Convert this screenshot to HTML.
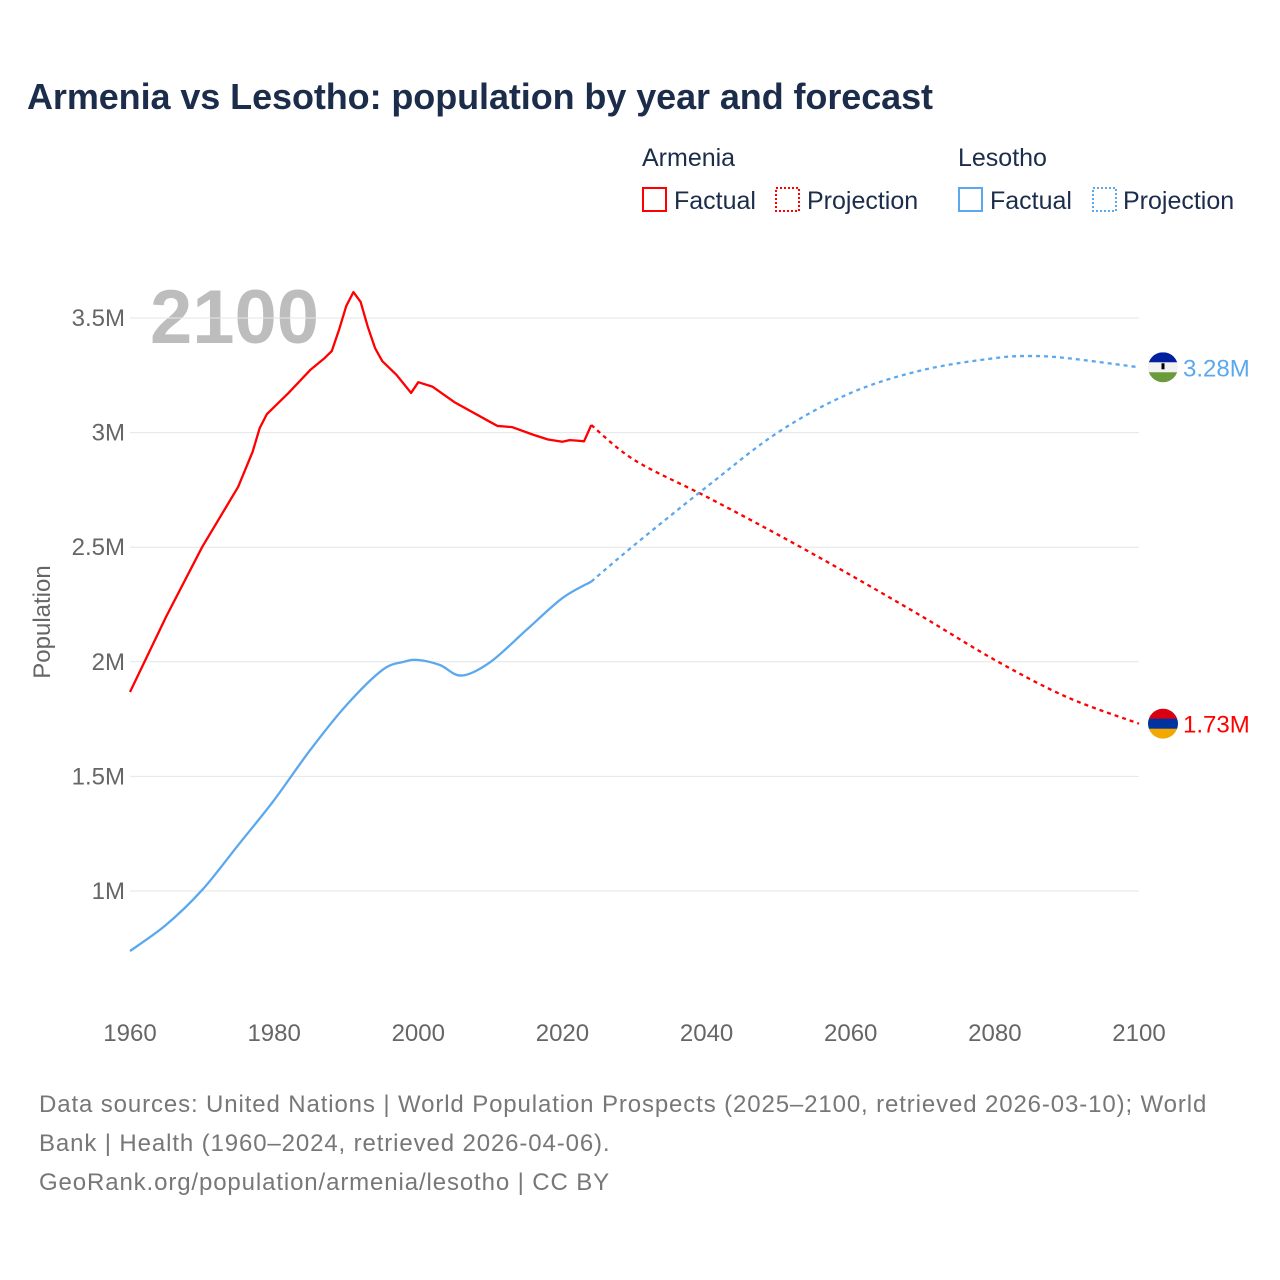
<!DOCTYPE html>
<html><head><meta charset="utf-8"><style>
body{margin:0;background:#fff;font-family:"Liberation Sans",sans-serif;}
#wrap{position:relative;width:1280px;height:1280px;overflow:hidden;background:#fff}
</style></head><body>
<div id="wrap">
<svg id="chart" width="1280" height="1280">
<text x="27" y="109" font-size="36" font-weight="bold" fill="#1b2d4b" textLength="906">Armenia vs Lesotho: population by year and forecast</text>
<g font-size="25" fill="#1b2d4b">
<text x="642" y="166">Armenia</text>
<rect x="643" y="188" width="23" height="23" fill="none" stroke="#ff0000" stroke-width="2"/>
<text x="674" y="209">Factual</text>
<rect x="776" y="188" width="23" height="23" fill="none" stroke="#ff0000" stroke-width="2" stroke-dasharray="2,2"/>
<text x="807" y="209">Projection</text>
<text x="958" y="166">Lesotho</text>
<rect x="959" y="188" width="23" height="23" fill="none" stroke="#5ba8ee" stroke-width="2"/>
<text x="990" y="209">Factual</text>
<rect x="1093" y="188" width="23" height="23" fill="none" stroke="#5ba8ee" stroke-width="2" stroke-dasharray="2,2"/>
<text x="1123" y="209">Projection</text>
</g>
<text x="150" y="343" font-size="76" font-weight="bold" fill="#bdbdbd">2100</text>
<g id="grid"></g>
<g id="marks"></g>
<text transform="translate(50,622) rotate(-90)" text-anchor="middle" font-size="24" fill="#666">Population</text>
<g font-size="24" fill="#777" letter-spacing="0.88">
<text x="39" y="1112">Data sources: United Nations | World Population Prospects (2025–2100, retrieved 2026-03-10); World</text>
<text x="39" y="1151">Bank | Health (1960–2024, retrieved 2026-04-06).</text>
<text x="39" y="1190">GeoRank.org/population/armenia/lesotho | CC BY</text>
</g>
</svg>
</div>
<script>
const yTicks=[1,1.5,2,2.5,3,3.5];
const yTickLabels=["1M","1.5M","2M","2.5M","3M","3.5M"];
const xTicks=[1960,1980,2000,2020,2040,2060,2080,2100];
const armYears=[1960,1965,1970,1975,1977,1978,1979,1982,1985,1987,1988,1989,1990,1991,1992,1993,1994,1995,1997,1999,2000,2002,2005,2010,2011,2013,2016,2018,2020,2021,2022,2023,2024];
const armValues=[1.868,2.196,2.50,2.763,2.915,3.02,3.081,3.173,3.273,3.325,3.356,3.448,3.552,3.613,3.57,3.461,3.369,3.312,3.251,3.173,3.22,3.20,3.133,3.046,3.029,3.024,2.99,2.97,2.96,2.967,2.965,2.962,3.033];
const armProjYears=[2024,2030,2040,2050,2060,2070,2080,2090,2100];
const armProjValues=[3.033,2.88,2.72,2.553,2.378,2.196,2.008,1.846,1.73];
const lesYears=[1960,1965,1970,1975,1980,1985,1990,1995,1998,2000,2003,2006,2010,2015,2020,2024];
const lesValues=[0.738,0.852,1.004,1.20,1.397,1.615,1.81,1.964,2.0,2.008,1.986,1.94,1.999,2.139,2.278,2.35];
const lesProjYears=[2024,2030,2040,2050,2060,2070,2080,2085,2090,2100];
const lesProjValues=[2.35,2.51,2.763,3.003,3.173,3.273,3.325,3.334,3.325,3.285];
const X=y=>130+(y-1960)*1009/140;
const Y=v=>891-(v-1)*229.2;
const NS="http://www.w3.org/2000/svg";
const grid=document.getElementById('grid'),marks=document.getElementById('marks');
function mk(t,a,p){const e=document.createElementNS(NS,t);for(const k in a)e.setAttribute(k,a[k]);p.appendChild(e);return e;}
yTicks.forEach((v,i)=>{
 const l=mk('line',{x1:130,x2:1139,y1:Y(v),y2:Y(v),stroke:'#e6e6e6','stroke-width':1},grid);
 
 
 const t=mk('text',{x:125,y:Y(v)+8,'text-anchor':'end','font-size':24,fill:'#666'},grid);
 t.textContent=yTickLabels[i];
 
 
});
xTicks.forEach(y=>{
 const t=mk('text',{x:X(y),y:1041,'text-anchor':'middle','font-size':24,fill:'#666'},grid);
 t.textContent=y;
 
 
});
function pathD(pts,smooth){
 if(!smooth)return 'M'+pts.map(p=>p[0]+','+p[1]).join(' L');
 let d='M'+pts[0][0]+','+pts[0][1];
 for(let i=0;i<pts.length-1;i++){
  const p0=pts[i-1]||pts[i],p1=pts[i],p2=pts[i+1],p3=pts[i+2]||p2;
  const c1=[p1[0]+(p2[0]-p0[0])/6,p1[1]+(p2[1]-p0[1])/6];
  const c2=[p2[0]-(p3[0]-p1[0])/6,p2[1]-(p3[1]-p1[1])/6];
  d+=' C'+c1+' '+c2+' '+p2;
 }
 return d;
}
function line(ys,vs,color,dash,name,smooth){
 const pts=ys.map((y,i)=>[X(y),Y(vs[i])]);
 const p=mk('path',{d:pathD(pts,smooth),fill:'none',stroke:color,'stroke-width':2.3,'stroke-linejoin':'round'},marks);
 if(dash)p.setAttribute('stroke-dasharray','4,4');
 
 
}
line(armYears,armValues,'#ff0000',false,'armenia-factual-line',false);
line(armProjYears,armProjValues,'#ff0000',true,'armenia-projection-line',true);
line(lesYears,lesValues,'#5ba8ee',false,'lesotho-factual-line',true);
line(lesProjYears,lesProjValues,'#5ba8ee',true,'lesotho-projection-line',true);
function flag(cx,cy,cols,name){
 const g=mk('g',{},marks);
 
 
 const id='c'+name;
 const cp=mk('clipPath',{id:id},g);mk('circle',{cx:cx,cy:cy,r:15},cp);
 cols.forEach((c,i)=>mk('rect',{x:cx-15,y:cy-15+i*10,width:30,height:10.5,fill:c,'clip-path':'url(#'+id+')'},g));
 return g;
}
const ay=Y(armProjValues[armProjValues.length-1]),ly=Y(lesProjValues[lesProjValues.length-1]);
flag(1163,ay,['#d90012','#0033a0','#f2a800'],'armenia-flag-marker');
const lf=flag(1163,ly,['#00209f','#f2f2f2','#6a9a3a'],'lesotho-flag-marker');
mk('rect',{x:1161.5,y:ly-4,width:3,height:6,fill:'#000'},lf);
const at=mk('text',{x:1183,y:ay+9,'font-size':24,fill:'#ff0000'},marks);at.textContent='1.73M';


const lt=mk('text',{x:1183,y:ly+9,'font-size':24,fill:'#5ba8ee'},marks);lt.textContent='3.28M';


</script>
</body></html>
